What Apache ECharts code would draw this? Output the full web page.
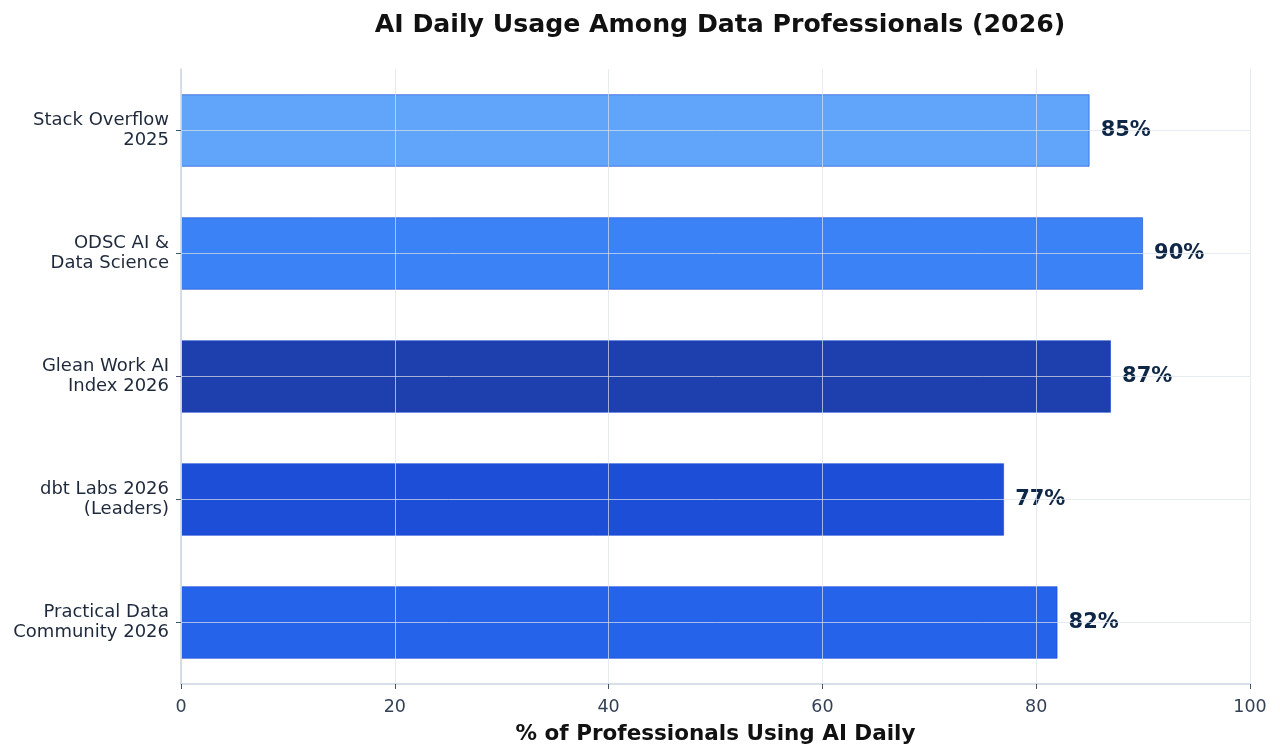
<!DOCTYPE html>
<html>
<head>
<meta charset="utf-8">
<script src="https://cdn.jsdelivr.net/npm/echarts@6/dist/echarts.min.js"></script>
<style>html,body{margin:0;padding:0;background:#fff}#c{width:1280px;height:756px}</style>
</head>
<body>
<div id="c"></div>
<script>
const categories = ['Stack Overflow\n2025', 'ODSC AI &\nData Science', 'Glean Work AI\nIndex 2026', 'dbt Labs 2026\n(Leaders)', 'Practical Data\nCommunity 2026'];
const values = [85, 90, 87, 77, 82];
const barColors = ['#60a5fa', '#3b82f6', '#1e40af', '#1d4ed8', '#2563eb'];
const xTicks = [0, 20, 40, 60, 80, 100];

const font = 'DejaVu Sans';
const chart = echarts.init(document.getElementById('c'));
chart.setOption({
  animation: false,
  backgroundColor: '#ffffff',
  title: {
    text: 'AI Daily Usage Among Data Professionals (2026)',
    left: 715, textAlign: 'center', top: 8,
    textStyle: { fontFamily: font, fontSize: 25.2, fontWeight: 'bold', color: '#111111' }
  },
  grid: { left: 181, right: 30, top: 69, bottom: 72 },
  xAxis: {
    type: 'value', min: xTicks[0], max: xTicks[xTicks.length - 1], interval: 20,
    z: 3,
    name: '% of Professionals Using AI Daily',
    nameLocation: 'middle', nameGap: 39,
    nameTextStyle: { fontFamily: font, fontSize: 21.5, fontWeight: 'bold', color: '#111111' },
    axisLine: { show: true, lineStyle: { color: '#cbd5e1', width: 1.5 } },
    axisTick: { show: true, length: 5, lineStyle: { color: '#475569' } },
    axisLabel: { margin: 14, fontFamily: font, fontSize: 17.5, color: '#334155' },
    splitLine: { show: true, lineStyle: { color: 'rgba(220,225,235,0.7)', width: 1 } }
  },
  yAxis: {
    type: 'category', data: categories, inverse: true,
    z: 3,
    axisLine: { show: true, lineStyle: { color: '#cbd5e1', width: 1.5 } },
    axisTick: { show: true, alignWithLabel: true, length: 5, lineStyle: { color: '#475569' } },
    axisLabel: { margin: 12, fontFamily: font, fontSize: 18, lineHeight: 20, padding: [5, 0, 0, 0], color: '#1e293b', align: 'right' },
    splitLine: { show: true, alignWithLabel: true, lineStyle: { color: 'rgba(220,225,235,0.7)', width: 1 } }
  },
  series: [{
    type: 'bar',
    barWidth: '59%',
    data: values.map((v, i) => ({
      value: v,
      itemStyle: { color: barColors[i], borderColor: 'rgba(20,70,210,0.6)', borderWidth: 1 }
    })),
    label: {
      show: true, position: 'right', distance: 11,
      formatter: p => p.value + '%',
      fontFamily: font, fontSize: 21, fontWeight: 'bold', color: '#0f2747'
    }
  }]
});
</script>
</body>
</html>
